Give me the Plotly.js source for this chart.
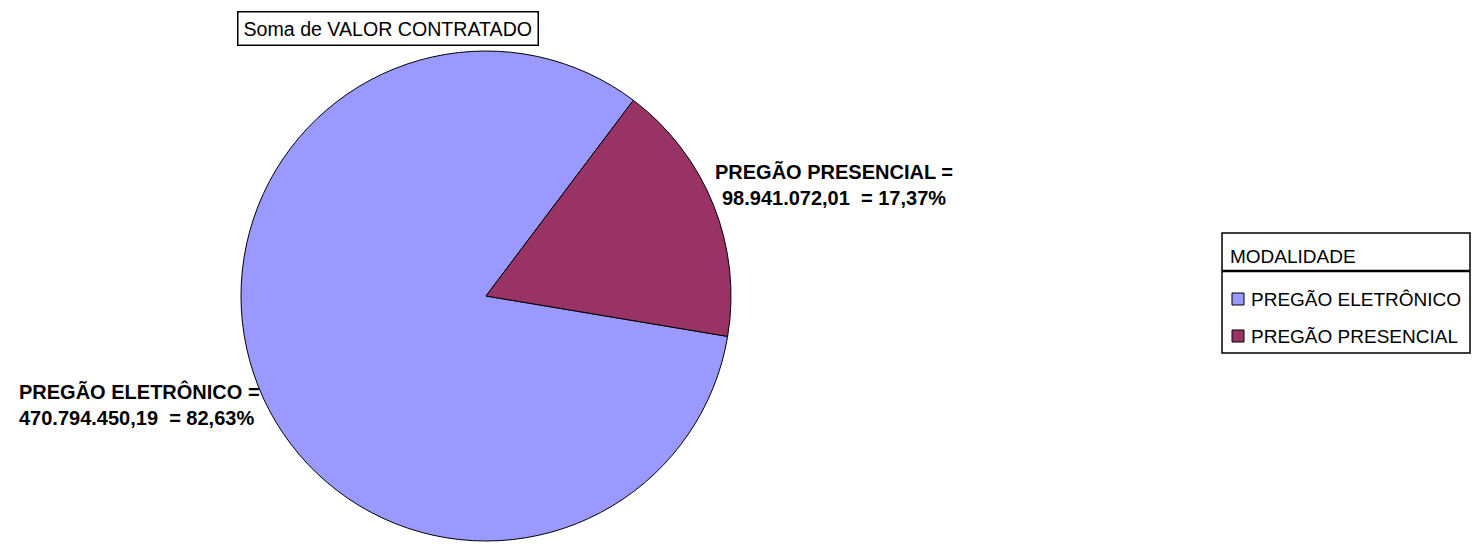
<!DOCTYPE html>
<html>
<head>
<meta charset="utf-8">
<script src="https://cdn.plot.ly/plotly-3.0.1.min.js"></script>
<style>html,body{margin:0;padding:0;background:#fff;}#chart{width:1479px;height:548px;}</style>
</head>
<body>
<div id="chart"></div>
<script>
const chartTitle = 'Soma de VALOR CONTRATADO';
const legendTitle = 'MODALIDADE';
const categories = ['PREGÃO ELETRÔNICO', 'PREGÃO PRESENCIAL'];
const values = [470794450.19, 98941072.01];
const colors = ['#9999FF', '#993366'];

const W = 1479, H = 548;
const px = x => x / W;
const py = y => 1 - y / H;

function fmtBR(v, d) {
  const s = v.toFixed(d);
  let [i, f] = s.split('.');
  i = i.replace(/\B(?=(\d{3})+(?!\d))/g, '.');
  return f ? i + ',' + f : i;
}
const total = values.reduce((a, b) => a + b, 0);
const labelText = categories.map((c, i) =>
  c + ' =<br>' + fmtBR(values[i], 2) + '  = ' + fmtBR(values[i] / total * 100, 2) + '%');

const trace = {
  type: 'pie',
  labels: categories,
  values: values,
  sort: false,
  direction: 'clockwise',
  rotation: 99.5,
  textinfo: 'none',
  hoverinfo: 'none',
  showlegend: false,
  marker: { colors: colors, line: { color: '#000', width: 1 } },
  domain: { x: [px(241), px(731)], y: [py(541), py(51)] }
};

const labelFont = { family: '"Liberation Sans", Arial, sans-serif', size: 20, color: '#000', weight: 'bold' };
const normFont = { family: '"Liberation Sans", Arial, sans-serif', size: 19, color: '#000' };

const annotations = [
  { x: px(387.5), y: py(28.5), xref: 'paper', yref: 'paper', text: chartTitle, showarrow: false,
    font: { family: normFont.family, size: 19.6, color: '#000' }, bordercolor: '#000', borderwidth: 1.5,
    bgcolor: '#fff', borderpad: 5, xanchor: 'center', yanchor: 'middle' },
  { x: px(17), y: py(404), xref: 'paper', yref: 'paper', text: labelText[0], showarrow: false,
    font: labelFont, align: 'left', xanchor: 'left', yanchor: 'middle' },
  { x: px(834), y: py(185), xref: 'paper', yref: 'paper', text: labelText[1], showarrow: false,
    font: labelFont, align: 'center', xanchor: 'center', yanchor: 'middle' },
  { x: px(1228), y: py(256), xref: 'paper', yref: 'paper', text: legendTitle, showarrow: false,
    font: normFont, xanchor: 'left', yanchor: 'middle' }
];
const shapes = [
  { type: 'rect', xref: 'paper', yref: 'paper', x0: px(1222), x1: px(1470), y0: py(233), y1: py(353),
    line: { color: '#000', width: 1.5 } },
  { type: 'line', xref: 'paper', yref: 'paper', x0: px(1222), x1: px(1470), y0: py(271), y1: py(271),
    line: { color: '#000', width: 2.5 } }
];
categories.forEach((c, i) => {
  const cy = 299 + i * 37;
  shapes.push({ type: 'rect', xref: 'paper', yref: 'paper', x0: px(1232), x1: px(1244),
    y0: py(cy - 6), y1: py(cy + 6), fillcolor: colors[i], line: { color: '#000', width: 1 } });
  annotations.push({ x: px(1249), y: py(cy), xref: 'paper', yref: 'paper', text: c, showarrow: false,
    font: normFont, xanchor: 'left', yanchor: 'middle' });
});

const layout = {
  width: W, height: H,
  margin: { l: 0, r: 0, t: 0, b: 0 },
  paper_bgcolor: '#fff', plot_bgcolor: '#fff',
  showlegend: false,
  annotations: annotations,
  shapes: shapes
};
Plotly.newPlot('chart', [trace], layout, { displayModeBar: false, staticPlot: true });
</script>
</body>
</html>
